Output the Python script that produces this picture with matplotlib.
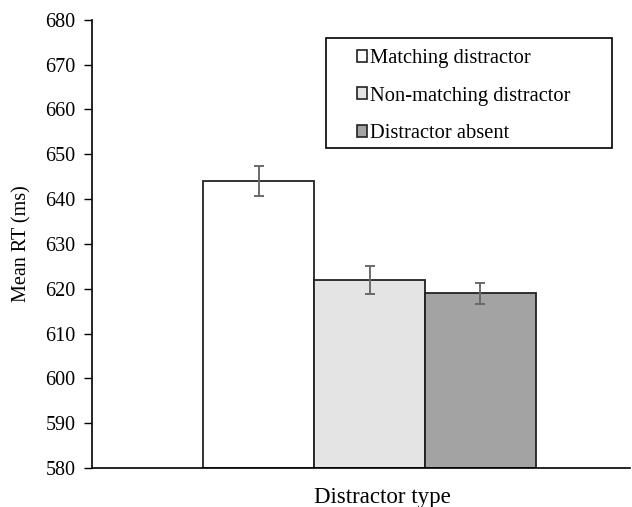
import matplotlib.pyplot as plt
from matplotlib.patches import Patch, Rectangle

plt.rcParams['font.family'] = ['Liberation Serif', 'DejaVu Serif']

conditions = ['Matching distractor', 'Non-matching distractor', 'Distractor absent']
means = [644, 622, 619]
err_low = [3.4, 3.1, 2.4]
err_high = [3.4, 3.1, 2.3]
colors = ['#ffffff', '#e4e4e4', '#a3a3a3']
xpos = [-1, 0, 1]

fig = plt.figure(figsize=(6.32, 5.07), dpi=100)
ax = fig.add_axes([0.146, 0.077, 0.851, 0.884])

ax.bar(xpos, [m - 580 for m in means], bottom=580, width=1.0, color=colors,
       edgecolor='#222222', linewidth=1.3, zorder=2)
ax.errorbar(xpos, means, yerr=[err_low, err_high], fmt='none', ecolor='#6a6a6a',
            elinewidth=1.4, capsize=3.7, capthick=1.4, zorder=3)

ax.set_xlim(-2.5, 2.35)
ax.set_ylim(580, 680)
ax.set_yticks(range(580, 681, 10))
ax.set_xticks([])
ax.tick_params(axis='y', direction='out', length=6, width=1, labelsize=14.5, pad=6)
ax.spines['top'].set_visible(False)
ax.spines['right'].set_visible(False)
ax.spines['left'].set_linewidth(1.2)
ax.spines['bottom'].set_linewidth(1.2)
ax.set_ylabel('Mean RT (ms)', fontsize=14.5, labelpad=10)
ax.set_xlabel('Distractor type', fontsize=16.5)
ax.xaxis.set_label_coords(0.539, -0.043)

# legend box like the Excel one: frame wider than its contents
ax.add_patch(Rectangle((326 / 632, 1 - 148 / 507), 286 / 632, 110 / 507,
                       transform=fig.transFigure, facecolor='white', clip_on=False,
                       edgecolor='black', linewidth=1.2, zorder=5))
handles = [Patch(facecolor=c, edgecolor='#222222', linewidth=1.2) for c in colors]
leg = ax.legend(handles, conditions, loc='upper left',
                bbox_to_anchor=(357 / 632, 1 - 49 / 507), bbox_transform=fig.transFigure,
                fontsize=14.8, frameon=False,
                handlelength=0.5, handleheight=0.5, handletextpad=0.12,
                labelspacing=0.9, borderpad=0, borderaxespad=0)
leg.set_zorder(6)

fig.savefig('out.png', dpi=100)
